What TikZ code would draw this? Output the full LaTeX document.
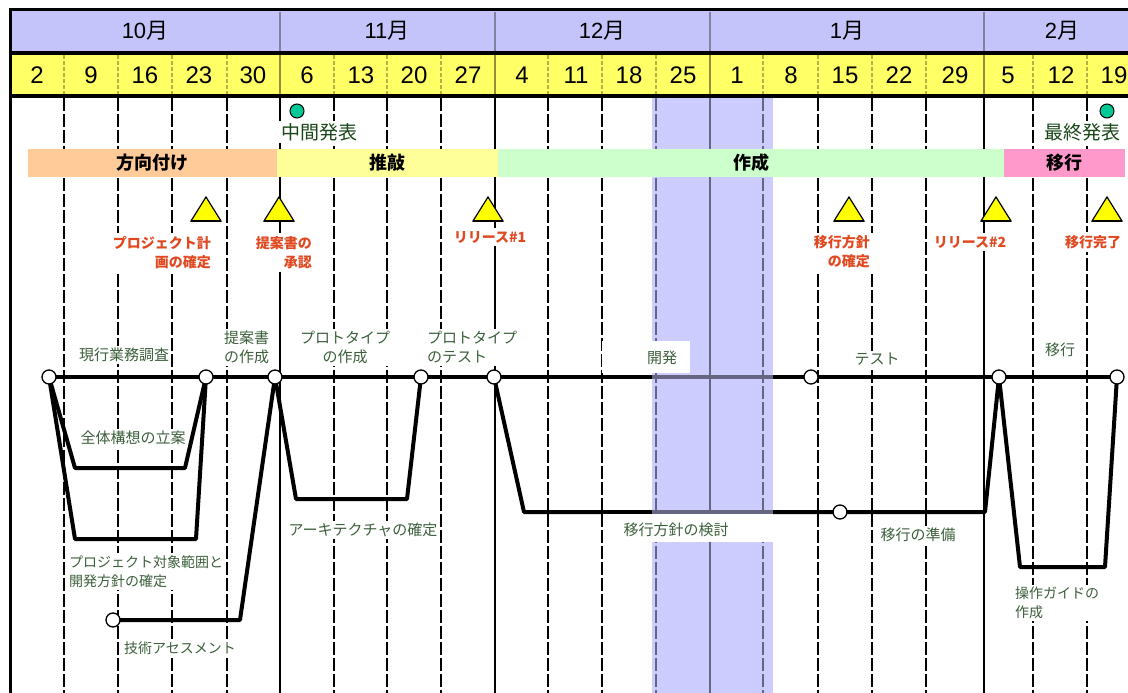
\documentclass[tikz,border=0pt]{standalone}
\usepackage{fontspec}
\setmainfont{Noto Sans CJK JP}
\newfontfamily\hd{Liberation Sans}
\definecolor{monthc}{RGB}{196,196,250}
\definecolor{datec}{RGB}{255,255,102}
\definecolor{shadec}{RGB}{204,204,255}
\definecolor{phaseA}{RGB}{255,204,153}
\definecolor{phaseB}{RGB}{255,255,153}
\definecolor{phaseC}{RGB}{204,255,204}
\definecolor{phaseD}{RGB}{255,153,204}
\definecolor{redt}{RGB}{224,72,32}
\definecolor{actg}{RGB}{60,95,60}
\definecolor{darkg}{RGB}{25,70,25}
\definecolor{msgreen}{RGB}{0,200,150}
\definecolor{hdline}{RGB}{130,130,160}
\definecolor{oliveline}{RGB}{185,175,70}
\definecolor{triyellow}{RGB}{255,255,0}
\tikzset{
  wk/.style={line width=1.8, dash pattern=on 13pt off 3pt},
  mo/.style={line width=2.2},
  hdw/.style={oliveline, line width=1.2, dash pattern=on 4pt off 2pt},
  hdm/.style={oliveline!80!black, line width=1.6},
  hdl/.style={hdline, line width=1.6},
  net/.style={line width=4, line join=round, line cap=round},
  circ/.style={circle, draw, fill=white, line width=1.3, minimum size=14, inner sep=0},
  msdot/.style={circle, draw, fill=msgreen, line width=1, minimum size=14, inner sep=0},
  lab/.style={fill=white, inner sep=2, text=actg, font=\fontsize{15}{19}\selectfont},
  mlab/.style={fill=white, inner sep=3, text=redt, font=\fontsize{14}{19}\selectfont\bfseries},
  mstext/.style={fill=white, inner sep=2, text=darkg, font=\fontsize{19}{21}\selectfont},
  phase/.style={inner sep=0, minimum height=28, font=\fontsize{18}{20}\selectfont\bfseries},
  tri/.style={fill=triyellow, draw=black, line width=1.2, line join=miter},
  mon/.style={font=\fontsize{22}{24}\selectfont},
  dt/.style={font=\hd\fontsize{24}{26}\selectfont}
}
\begin{document}
\begin{tikzpicture}[x=1pt,y=-1pt]
\useasboundingbox (0,0) rectangle (1128,693);
\fill[white] (0,0) rectangle (1128,693);
% header
\fill[monthc] (10,10) rectangle (1128,53);
\fill[datec] (10,53) rectangle (1128,96);
\foreach \x in {280,495,710,984} \draw[hdl] (\x,12) -- (\x,51);
\foreach \x in {64,118,172,227,334,387,441,548,602,656,763,818,872,926,1033,1087}
  \draw[hdw] (\x,55) -- (\x,94);
\foreach \x in {280,495,710,984} \draw[hdm] (\x,55) -- (\x,94);
\draw[line width=3] (10,10) -- (1128,10);
\draw[line width=4] (10,53) -- (1128,53);
\draw[line width=4] (10,96) -- (1128,96);
\node[mon] (m10) at (145,31) {{\hd 10}月};
\node[mon] (m11) at (387,31) {{\hd 11}月};
\node[mon] (m12) at (602,31) {{\hd 12}月};
\node[mon] (m1) at (847,31) {{\hd 1}月};
\node[mon] (m2) at (1062,31) {{\hd 2}月};
\foreach \x/\d [count=\i] in {37/2,91/9,145/16,199/23,253/30,307/6,361/13,414/20,468/27,522/4,576/11,629/18,683/25,737/1,791/8,845/15,899/22,955/29,1008/5,1061/12,1114/19}
  \node[dt] (d\i) at (\x,75) {\d};
% body
\fill[shadec] (652,98) rectangle (773,693);
\foreach \x in {64,118,172,227,334,387,441,548,602,656,763,818,872,926,1033,1087}
  \draw[wk] (\x,98) -- (\x,693);
\foreach \x in {280,495,710,984} \draw[mo] (\x,98) -- (\x,693);
\draw[line width=3] (10,8.5) -- (10,693);
% network coordinates
\coordinate (p1) at (49,377);
\coordinate (p2) at (206,377);
\coordinate (p3) at (275,377);
\coordinate (p4) at (421,377);
\coordinate (p5) at (494,377);
\coordinate (p6) at (811,377);
\coordinate (p7) at (999,377);
\coordinate (p8) at (1117,377);
\coordinate (p9) at (840,512);
\coordinate (p10) at (113,620);
\draw[net] (p1) -- (p2) -- (p3) -- (p4) -- (p5) -- (p6) -- (p7) -- (p8);
\draw[net] (p1) -- (75,468) -- (185,468) -- (p2);
\draw[net] (p1) -- (75,539) -- (196,539) -- (p2);
\draw[net] (p10) -- (240,620) -- (p3);
\draw[net] (p3) -- (296,499) -- (407,499) -- (p4);
\draw[net] (p5) -- (524,512) -- (p9) -- (985,512) -- (p7);
\draw[net] (p7) -- (1020,567) -- (1105,567) -- (p8);
\fill[shadec, opacity=0.5] (652,98) rectangle (773,693);
% phases
\node[phase, fill=phaseA, minimum width=249] (ph1) at (152.5,163) {方向付け};
\node[phase, fill=phaseB, minimum width=221] (ph2) at (387.5,163) {推敲};
\node[phase, fill=phaseC, minimum width=506] (ph3) at (751,163) {作成};
\node[phase, fill=phaseD, minimum width=121] (ph4) at (1064.5,163) {移行};
% major milestones
\node[msdot] (ms1) at (297,111) {};
\node[mstext] (ms1t) at (319,132) {中間発表};
\node[msdot] (ms2) at (1107,111) {};
\node[mstext] (ms2t) at (1082,132) {最終発表};
% triangles
\foreach \x in {206,279,488,849,996,1107} {
  \filldraw[tri] (\x-15,221) -- (\x,197) -- (\x+15,221) -- cycle;
  \draw[line width=2.5] (\x-15,221) -- (\x+15,221);
}
\node[mlab, align=right, anchor=east] (t1) at (214,252.5) {プロジェクト計\\画の確定};
\node[mlab, align=right, anchor=east] (t2) at (315,252.5) {提案書の\\承認};
\node[mlab] (t3) at (490,237) {リリース\#1};
\node[mlab, align=right, anchor=east] (t4) at (873,252) {移行方針\\の確定};
\node[mlab] (t5) at (970,242) {リリース\#2};
\node[mlab] (t6) at (1093,242) {移行完了};
% activity labels
\node[lab] (a1) at (124,355) {現行業務調査};
\node[lab, align=left, anchor=west] (a2) at (222,347.5) {提案書\\の作成};
\node[lab, align=center] (a3) at (345,347.5) {プロトタイプ\\の作成};
\node[lab, align=left, anchor=west] (a4) at (425,347.5) {プロトタイプ\\のテスト};
\fill[white] (602,341) rectangle (690,373);
\node[lab] (a5) at (662,358) {開発};
\node[lab] (a6) at (877,359) {テスト};
\node[lab] (a7) at (1060,350) {移行};
\node[lab] (a8) at (133,438) {全体構想の立案};
\node[lab, align=left, anchor=west, font=\fontsize{14}{19}\selectfont] (a9) at (67,571.5) {プロジェクト対象範囲と\\開発方針の確定};
\node[lab, font=\fontsize{14}{19}\selectfont] (a10) at (180,648) {技術アセスメント};
\node[lab] (a11) at (363,530) {アーキテクチャの確定};
\fill[white] (603,514) rectangle (773,542);
\node[lab] (a12) at (676,530) {移行方針の検討};
\node[lab] (a13) at (918,535) {移行の準備};
\node[lab, align=left, anchor=west, font=\fontsize{14}{19}\selectfont] (a14) at (1013,603) {操作ガイドの\\作成};
% event circles
\foreach \i in {1,...,10} \node[circ] (n\i) at (p\i) {};
\end{tikzpicture}
\end{document}
